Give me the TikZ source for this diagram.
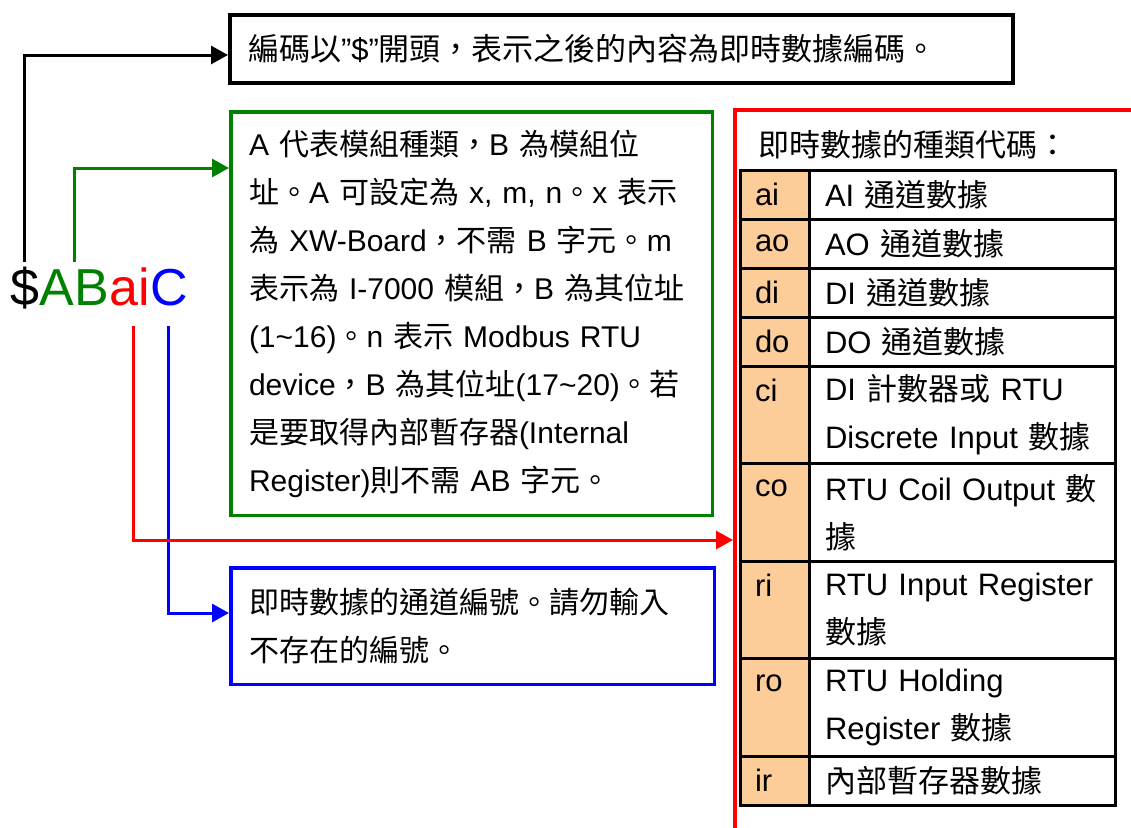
\documentclass[tikz,border=0pt]{standalone}
\usepackage{fontspec}
\setmainfont{Liberation Sans}
\newfontfamily\cjkfont{Noto Sans CJK TC}
\newcommand{\zh}[1]{{\cjkfont #1}}
\usepackage{tikz}
\usetikzlibrary{positioning, arrows.meta}
\definecolor{codegreen}{RGB}{0,128,0}
\definecolor{peach}{RGB}{252,204,153}

\begin{document}
\begin{tikzpicture}[x=1pt, y=-1pt,
		every node/.style={font=\fontsize{31}{48}\selectfont},
		infobox/.style={draw, line width=3.5pt, anchor=north west, align=left, inner ysep=0pt},
		boxtext/.style={font=\fontsize{30}{48}\selectfont},
		letters/.style={font=\fontsize{52}{60}\selectfont, inner xsep=0pt, inner ysep=5pt, text height=38pt, text depth=16pt},
		link/.style={line width=3pt, -{Triangle[length=17pt, width=18pt]}},
		codecell/.style={draw, line width=3pt, fill=peach, outer sep=0pt, inner xsep=15pt, inner ysep=0pt, text width=39pt, align=left},
		desccell/.style={draw, line width=3pt, outer sep=0pt, inner xsep=16pt, inner ysep=0pt, text width=274pt, align=left},
		single/.style={minimum height=49pt},
		double/.style={minimum height=97.5pt}
		]
	
		\useasboundingbox (0,0) rectangle (1131,827);
	
		% Boîtes d'explication
		\node[infobox, line width=4pt, inner xsep=18pt, text width=747pt, minimum height=68pt] (head) at (228,13)
			{\zh{編碼以}”\$”\zh{開頭，表示之後的內容為即時數據編碼。}};
		\node[infobox, boxtext, draw=codegreen, inner xsep=18.25pt, text width=445pt, minimum height=403.5pt] (mod) at (229,110)
			{A \zh{代表模組種類，}B \zh{為模組位}\\
			 \zh{址。}A \zh{可設定為} x, m, n\zh{。}x \zh{表示}\\
			 \zh{為} XW-Board\zh{，不需} B \zh{字元。}m\\
			 \zh{表示為} I-7000 \zh{模組，}B \zh{為其位址}\\
			 (1\textasciitilde 16)\zh{。}n \zh{表示} Modbus RTU\\
			 device\zh{，}B \zh{為其位址}(17\textasciitilde 20)\zh{。若}\\
			 \zh{是要取得內部暫存器}(Internal\\
			 Register)\zh{則不需} AB \zh{字元。}};
		\node[infobox, boxtext, draw=blue, inner xsep=18.25pt, text width=447pt, minimum height=116.5pt] (chan) at (229,566)
			{\zh{即時數據的通道編號。請勿輸入}\\
			 \zh{不存在的編號。}};
		\node[draw=red, line width=3.5pt, anchor=north west, minimum width=460pt, minimum height=780pt] (types) at (733,108) {};
	
		% Code $ABaiC
		\node[letters, anchor=base west] (dollar) at (10,305) {\$};
		\node[letters, right=0pt of dollar, text=codegreen] (ab) {AB};
		\node[letters, right=0pt of ab, text=red] (ai) {ai};
		\node[letters, right=0pt of ai, text=blue] (cc) {C};
	
		\draw[link] (dollar.north) |- ([yshift=-6pt]head.west);
		\draw[link, codegreen] (ab.north) |- ([yshift=-58pt]mod.north west);
		\draw[link, blue] (cc.south) |- ([yshift=-47pt]chan.north west);
		\draw[link, red] ([xshift=4pt]ai.south) |- ([yshift=-432pt]types.north west);
	
		% Tableau des types
		\node[anchor=west, inner sep=0pt] (legend) at (758,145) {\zh{即時數據的種類代碼：}};
	
		\node[codecell, single, anchor=north west] (c-ai) at (740,170) {ai};
		\node[codecell, single, below=0pt of c-ai] (c-ao) {ao};
		\node[codecell, single, below=0pt of c-ao] (c-di) {di};
		\node[codecell, single, below=0pt of c-di] (c-do) {do};
		\node[codecell, double, below=0pt of c-do] (c-ci) {ci\\\mbox{}};
		\node[codecell, double, below=0pt of c-ci] (c-co) {co\\\mbox{}};
		\node[codecell, double, below=0pt of c-co] (c-ri) {ri\\\mbox{}};
		\node[codecell, double, below=0pt of c-ri] (c-ro) {ro\\\mbox{}};
		\node[codecell, single, below=0pt of c-ro] (c-ir) {ir};
	
		\node[desccell, single, right=0pt of c-ai] (d-ai) {AI \zh{通道數據}};
		\node[desccell, single, right=0pt of c-ao] (d-ao) {AO \zh{通道數據}};
		\node[desccell, single, right=0pt of c-di] (d-di) {DI \zh{通道數據}};
		\node[desccell, single, right=0pt of c-do] (d-do) {DO \zh{通道數據}};
		\node[desccell, double, right=0pt of c-ci] (d-ci) {DI \zh{計數器或} RTU\\Discrete Input \zh{數據}};
		\node[desccell, double, right=0pt of c-co] (d-co) {RTU Coil Output \zh{數}\\\zh{據}};
		\node[desccell, double, right=0pt of c-ri] (d-ri) {RTU Input Register\\\zh{數據}};
		\node[desccell, double, right=0pt of c-ro] (d-ro) {RTU Holding\\Register \zh{數據}};
		\node[desccell, single, right=0pt of c-ir] (d-ir) {\zh{內部暫存器數據}};
	\end{tikzpicture}
\end{document}
